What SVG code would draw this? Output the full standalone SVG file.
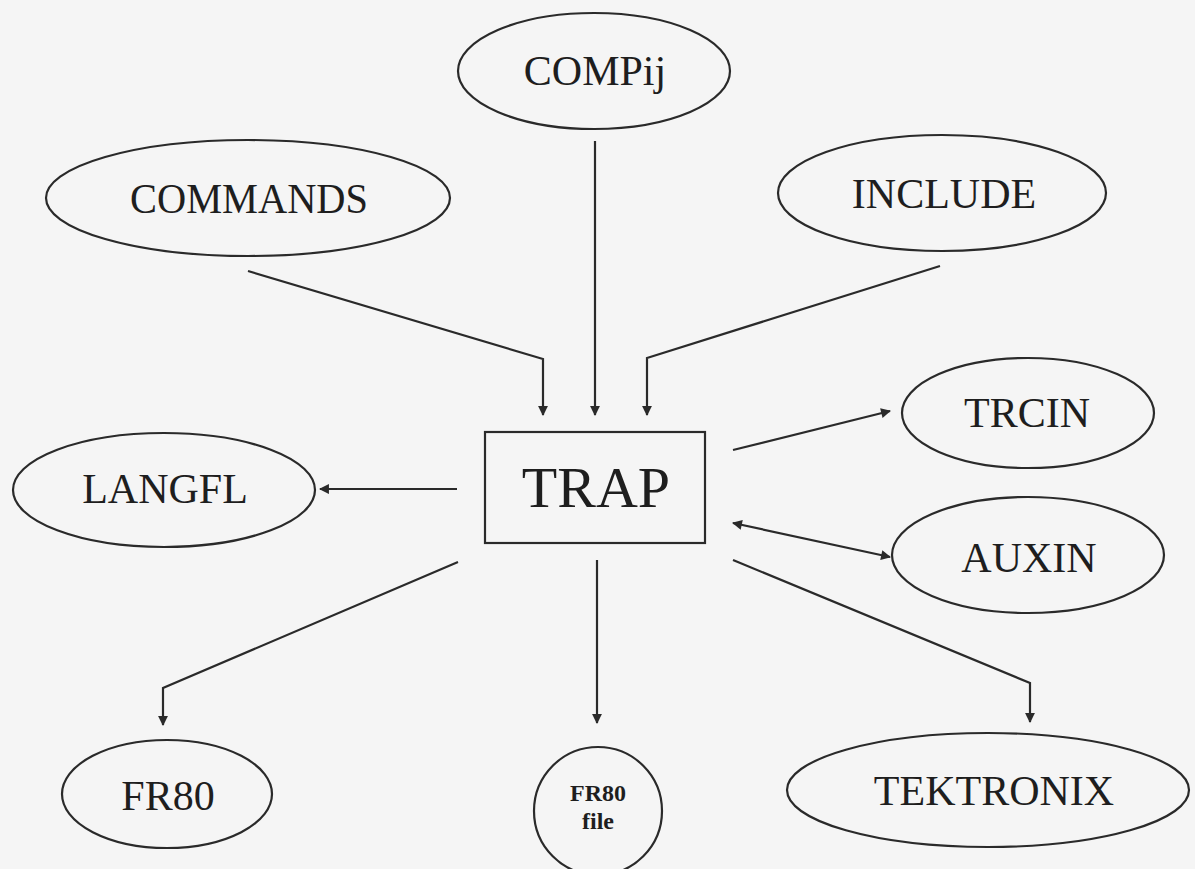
<svg xmlns="http://www.w3.org/2000/svg" width="1195" height="869" viewBox="0 0 1195 869">
<style>
.n{fill:none;stroke:#2a2a2a;stroke-width:2.2}
.t{font-family:"Liberation Serif","Times New Roman",serif;font-size:42px;fill:#1e1e1e;text-anchor:middle}
.s{font-size:24px;font-weight:bold}
.c{fill:none;stroke:#2a2a2a;stroke-width:2.2}
</style>
<defs>
<marker id="ah" viewBox="0 0 10 10" refX="9" refY="5" markerWidth="5" markerHeight="4.5" orient="auto-start-reverse" markerUnits="strokeWidth">
<path d="M0,0 L10,5 L0,10 z" fill="#2a2a2a"/>
</marker>
</defs>
<rect width="1195" height="869" fill="#f5f5f5"/>
<g id="connectors">
<polyline class="c" points="248,271 543,359 543,415" marker-end="url(#ah)"/>
<line class="c" x1="595" y1="141" x2="595" y2="415" marker-end="url(#ah)"/>
<polyline class="c" points="940,266 647,358 647,415" marker-end="url(#ah)"/>
<line class="c" x1="457" y1="489" x2="320" y2="489" marker-end="url(#ah)"/>
<line class="c" x1="733" y1="450" x2="890" y2="411" marker-end="url(#ah)"/>
<line class="c" x1="733" y1="523" x2="890" y2="557" marker-start="url(#ah)" marker-end="url(#ah)"/>
<polyline class="c" points="458,562 163,688 163,725" marker-end="url(#ah)"/>
<line class="c" x1="597" y1="560" x2="597" y2="723" marker-end="url(#ah)"/>
<polyline class="c" points="733,560 1030,683 1030,722" marker-end="url(#ah)"/>
</g>
<g id="COMPij">
<ellipse class="n" cx="594" cy="71" rx="136" ry="58"/>
<text class="t" x="595" y="85">COMPij</text>
</g>
<g id="COMMANDS">
<ellipse class="n" cx="248" cy="198" rx="202" ry="58"/>
<text class="t" x="249" y="213" textLength="238" lengthAdjust="spacingAndGlyphs">COMMANDS</text>
</g>
<g id="INCLUDE">
<ellipse class="n" cx="942" cy="193" rx="164" ry="58"/>
<text class="t" x="944" y="208">INCLUDE</text>
</g>
<g id="TRAP">
<rect class="n" x="485" y="432" width="220" height="111"/>
<text class="t" x="596" y="507" style="font-size:58px">TRAP</text>
</g>
<g id="LANGFL">
<ellipse class="n" cx="164" cy="490" rx="151" ry="57"/>
<text class="t" x="165" y="503">LANGFL</text>
</g>
<g id="TRCIN">
<ellipse class="n" cx="1028" cy="413" rx="126" ry="55"/>
<text class="t" x="1027" y="427">TRCIN</text>
</g>
<g id="AUXIN">
<ellipse class="n" cx="1028" cy="555" rx="136" ry="58"/>
<text class="t" x="1029" y="572">AUXIN</text>
</g>
<g id="FR80">
<ellipse class="n" cx="167" cy="794" rx="105" ry="54"/>
<text class="t" x="168" y="810">FR80</text>
</g>
<g id="FR80file">
<circle class="n" cx="598" cy="811" r="64"/>
<text class="t s" x="598" y="801">FR80</text>
<text class="t s" x="598" y="829">file</text>
</g>
<g id="TEKTRONIX">
<ellipse class="n" cx="988" cy="790" rx="201" ry="57"/>
<text class="t" x="994" y="805">TEKTRONIX</text>
</g>
</svg>
